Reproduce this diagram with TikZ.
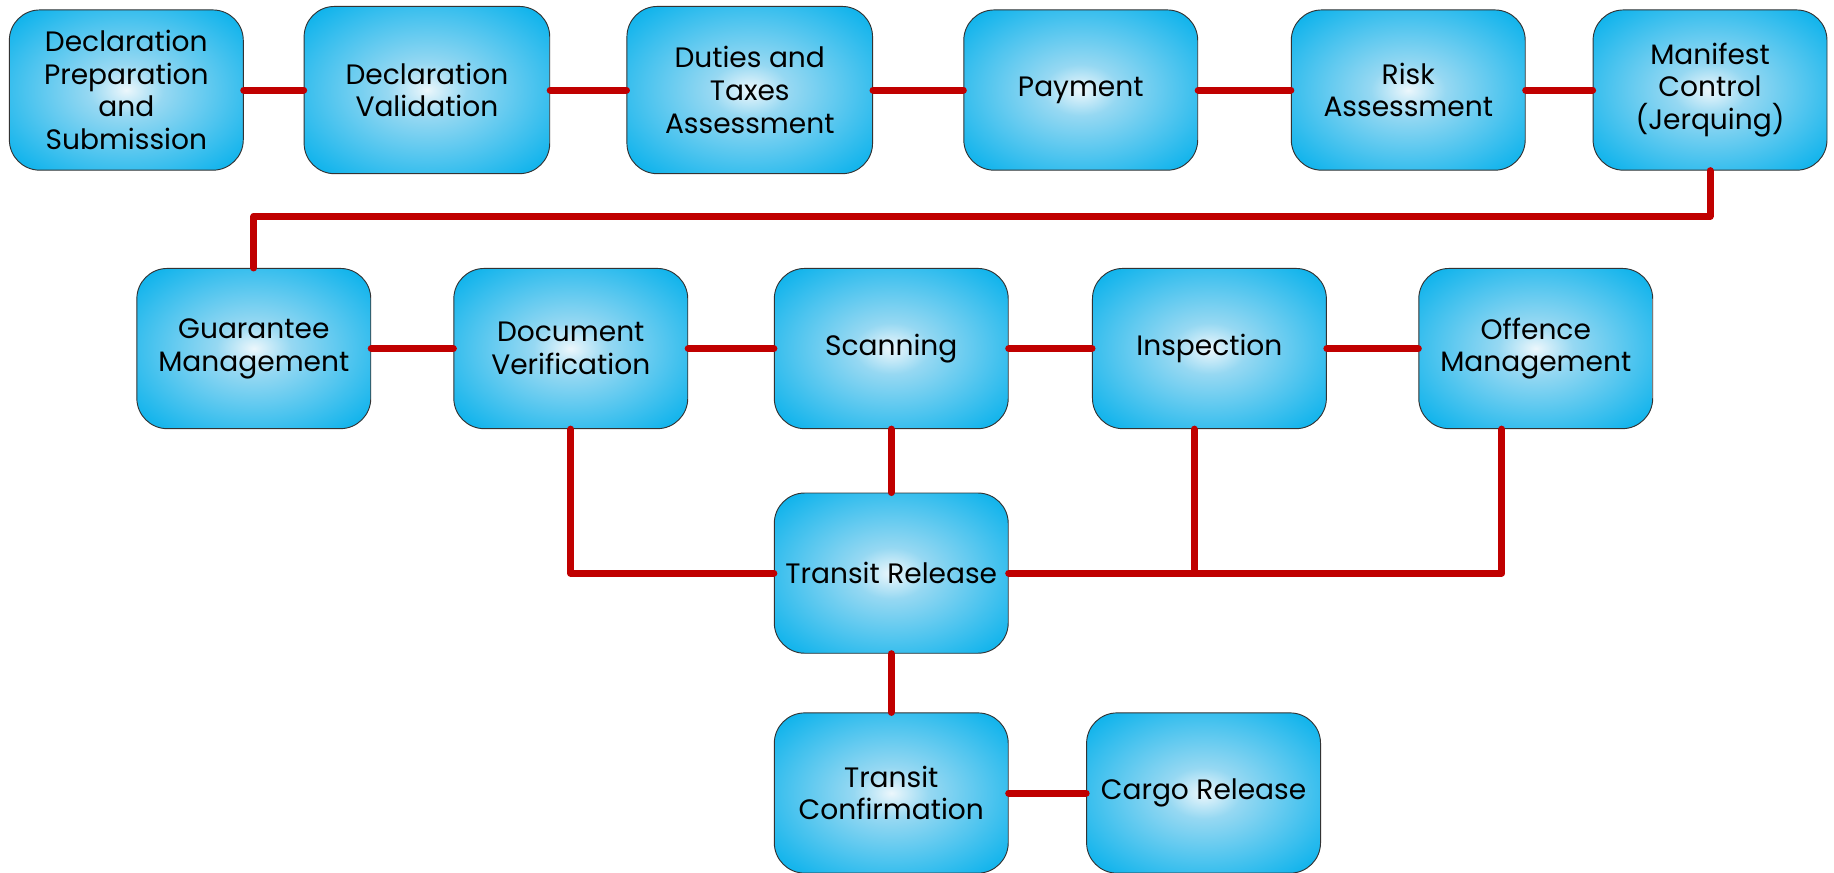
\documentclass[tikz,border=0pt]{standalone}
\usepackage{fontspec}
\setmainfont{Poppins}
\usetikzlibrary{shadings}

\definecolor{glowin}{RGB}{236,247,252}
\definecolor{glowmid}{RGB}{150,216,242}
\definecolor{glowout}{RGB}{18,180,236}
\definecolor{linkred}{RGB}{192,0,0}
\pgfdeclareradialshading{boxglow}{\pgfpoint{0bp}{0bp}}{color(0bp)=(glowin); color(8bp)=(glowmid); color(32bp)=(glowout); color(50bp)=(glowout)}

\begin{document}
\begin{tikzpicture}[x=1pt,y=-1pt,
  stage/.style={draw=black!80, line width=0.8pt, rounded corners=26pt, shading=boxglow,
    minimum width=200pt, minimum height=137pt, inner sep=2pt, align=center,
    font=\fontsize{24}{28}\selectfont},
  wide/.style={minimum width=210pt, minimum height=143pt},
  link/.style={linkred, line width=6pt, line cap=round, line join=round}]
\useasboundingbox (0,0) rectangle (1568,746);
% first row
\node[stage] (decl) at (108,77) {Declaration\\Preparation\\and\\Submission};
\node[stage,wide] (valid) at (365,77) {Declaration\\Validation};
\node[stage,wide] (duties) at (641,77) {Duties and\\Taxes\\Assessment};
\node[stage] (pay) at (924,77) {Payment};
\node[stage] (risk) at (1204,77) {Risk\\Assessment};
\node[stage] (manifest) at (1462,77) {Manifest\\Control\\(Jerquing)};
% second row
\node[stage] (guar) at (217,298) {Guarantee\\Management};
\node[stage] (docver) at (488,298) {Document\\Verification};
\node[stage] (scan) at (762,298) {Scanning};
\node[stage] (insp) at (1034,298) {Inspection};
\node[stage] (offence) at (1313,298) {Offence\\Management};
% release
\node[stage] (release) at (762,490) {Transit Release};
\node[stage] (confirm) at (762,678) {Transit\\Confirmation};
\node[stage] (cargo) at (1029,678) {Cargo Release};
% links first row
\draw[link] (decl.east) -- (valid.west);
\draw[link] (valid.east) -- (duties.west);
\draw[link] (duties.east) -- (pay.west);
\draw[link] (pay.east) -- (risk.west);
\draw[link] (risk.east) -- (manifest.west);
\draw[link] (manifest.south) -- ++(0,39) -| (guar.north);
% links second row
\draw[link] (guar.east) -- (docver.west);
\draw[link] (docver.east) -- (scan.west);
\draw[link] (scan.east) -- (insp.west);
\draw[link] (insp.east) -- (offence.west);
% links to release
\draw[link] (docver.south) |- (release.west);
\draw[link] (scan.south) -- (release.north);
\draw[link] (release.east) -| ([xshift=-29pt]offence.south);
\draw[link] ([xshift=-13pt]insp.south) -- ([xshift=-13pt]insp.south |- release.east);
\draw[link] (release.south) -- (confirm.north);
\draw[link] (confirm.east) -- (cargo.west);
\end{tikzpicture}
\end{document}
